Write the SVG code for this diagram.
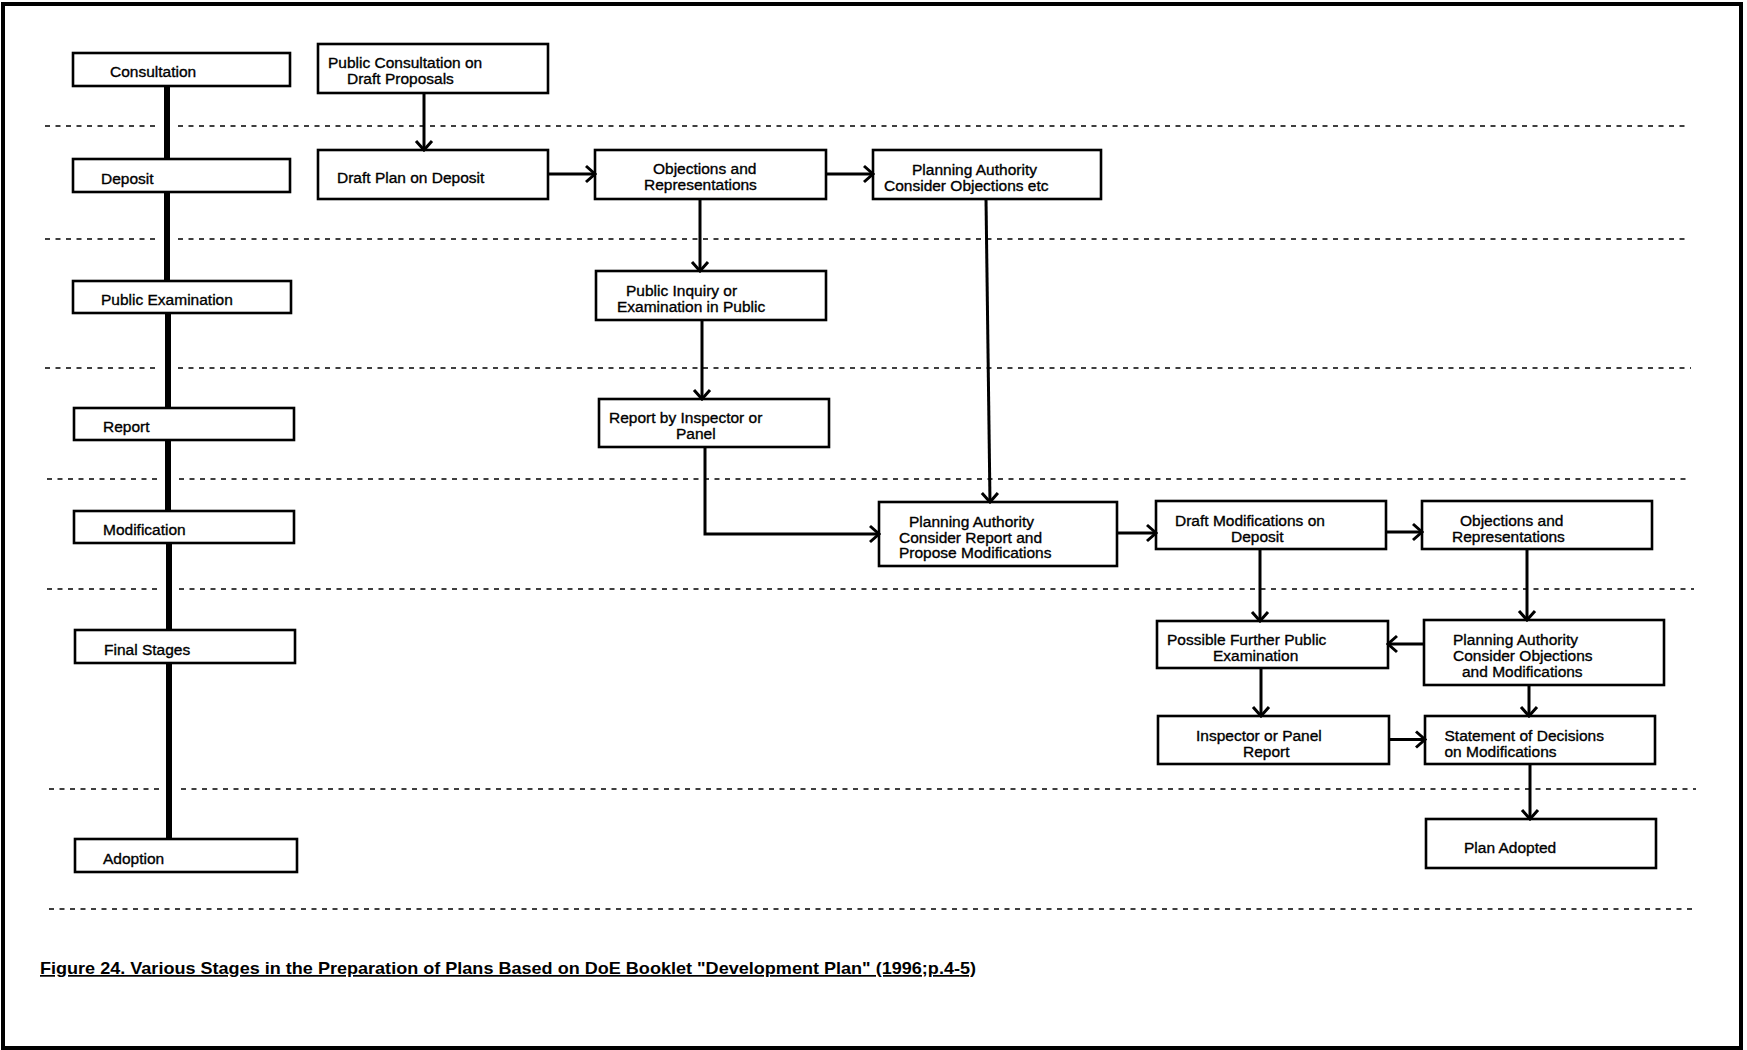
<svg xmlns="http://www.w3.org/2000/svg" width="1747" height="1050" viewBox="0 0 1747 1050">
  <style>
    .frame { fill: none; stroke: #000; stroke-width: 4; }
    .box { fill: #fff; stroke: #000; stroke-width: 2.6; }
    .lbl { font-family: "Liberation Sans", Arial, sans-serif; font-size: 15.5px; fill: #000; stroke: #000; stroke-width: 0.35; }
    .sep { fill: none; stroke: #000; stroke-width: 1.5; stroke-dasharray: 5 5.5; }
    .spine { fill: none; stroke: #000; stroke-width: 6; }
    .link { fill: none; stroke: #000; stroke-width: 3; marker-end: url(#arr); }
    .cap { font-family: "Liberation Sans", Arial, sans-serif; font-size: 17px; font-weight: bold; fill: #000; text-decoration: underline; }
  </style>
  <defs>
    <marker id="arr" viewBox="-12 -11 14 22" refX="0" refY="0" markerWidth="14" markerHeight="22" markerUnits="userSpaceOnUse" orient="auto">
      <path d="M-9,-8 L0,0 L-9,8" fill="none" stroke="#000" stroke-width="3"/>
    </marker>
  </defs>

  <rect width="1747" height="1050" fill="#fff"/>
  <rect class="frame" x="3" y="4" width="1738" height="1044"/>

  <!-- stage separators -->
  <g id="separators">
    <path class="sep" d="M45,126H157M178,126H1688"/>
    <path class="sep" d="M45,239H157M178,239H1690"/>
    <path class="sep" d="M45,368H157M178,368H1691"/>
    <path class="sep" d="M47,479H158M179,479H1691"/>
    <path class="sep" d="M47,589H158M179,589H1694"/>
    <path class="sep" d="M49,789H160M181,789H1696"/>
    <path class="sep" d="M49,909H1696"/>
  </g>

  <!-- stage column -->
  <g id="stage-consultation"><rect class="box" x="73" y="53" width="217" height="33"/><text class="lbl" x="110" y="77">Consultation</text></g>
  <g id="stage-deposit"><rect class="box" x="73" y="159" width="217" height="33"/><text class="lbl" x="101" y="184">Deposit</text></g>
  <g id="stage-public-examination"><rect class="box" x="73" y="281" width="218" height="32"/><text class="lbl" x="101" y="305">Public Examination</text></g>
  <g id="stage-report"><rect class="box" x="74" y="408" width="220" height="32"/><text class="lbl" x="103" y="432">Report</text></g>
  <g id="stage-modification"><rect class="box" x="74" y="511" width="220" height="32"/><text class="lbl" x="103" y="535">Modification</text></g>
  <g id="stage-final"><rect class="box" x="75" y="630" width="220" height="33"/><text class="lbl" x="104" y="655">Final Stages</text></g>
  <g id="stage-adoption"><rect class="box" x="75" y="839" width="222" height="33"/><text class="lbl" x="103" y="864">Adoption</text></g>

  <!-- process boxes -->
  <g id="public-consultation"><rect class="box" x="318" y="44" width="230" height="49"/>
    <text class="lbl" x="328" y="68">Public Consultation on</text><text class="lbl" x="347" y="84">Draft Proposals</text></g>
  <g id="draft-plan"><rect class="box" x="318" y="150" width="230" height="49"/>
    <text class="lbl" x="337" y="183">Draft Plan on Deposit</text></g>
  <g id="objections-1"><rect class="box" x="595" y="150" width="231" height="49"/>
    <text class="lbl" x="653" y="174">Objections and</text><text class="lbl" x="644" y="190">Representations</text></g>
  <g id="pa-objections"><rect class="box" x="873" y="150" width="228" height="49"/>
    <text class="lbl" x="912" y="175">Planning Authority</text><text class="lbl" x="884" y="190.5">Consider Objections etc</text></g>
  <g id="public-inquiry"><rect class="box" x="596" y="271" width="230" height="49"/>
    <text class="lbl" x="626" y="296">Public Inquiry or</text><text class="lbl" x="617" y="311.5">Examination in Public</text></g>
  <g id="inspector-report"><rect class="box" x="599" y="399" width="230" height="48"/>
    <text class="lbl" x="609" y="423">Report by Inspector or</text><text class="lbl" x="676" y="439">Panel</text></g>
  <g id="pa-report"><rect class="box" x="879" y="502" width="238" height="64"/>
    <text class="lbl" x="909" y="527">Planning Authority</text><text class="lbl" x="899" y="542.5">Consider Report and</text><text class="lbl" x="899" y="558">Propose Modifications</text></g>
  <g id="draft-modifications"><rect class="box" x="1156" y="501" width="230" height="48"/>
    <text class="lbl" x="1175" y="526">Draft Modifications on</text><text class="lbl" x="1231" y="541.5">Deposit</text></g>
  <g id="objections-2"><rect class="box" x="1422" y="501" width="230" height="48"/>
    <text class="lbl" x="1460" y="526">Objections and</text><text class="lbl" x="1452" y="541.5">Representations</text></g>
  <g id="further-examination"><rect class="box" x="1157" y="621" width="231" height="47"/>
    <text class="lbl" x="1167" y="645">Possible Further Public</text><text class="lbl" x="1213" y="660.5">Examination</text></g>
  <g id="pa-modifications"><rect class="box" x="1424" y="620" width="240" height="65"/>
    <text class="lbl" x="1453" y="645">Planning Authority</text><text class="lbl" x="1453" y="660.5">Consider Objections</text><text class="lbl" x="1462" y="676.5">and Modifications</text></g>
  <g id="panel-report"><rect class="box" x="1158" y="716" width="231" height="48"/>
    <text class="lbl" x="1196" y="740.5">Inspector or Panel</text><text class="lbl" x="1243" y="756.5">Report</text></g>
  <g id="statement"><rect class="box" x="1425" y="716" width="230" height="48"/>
    <text class="lbl" x="1444.5" y="740.5">Statement of Decisions</text><text class="lbl" x="1444.5" y="756.5">on Modifications</text></g>
  <g id="plan-adopted"><rect class="box" x="1426" y="819" width="230" height="49"/>
    <text class="lbl" x="1464" y="852.5">Plan Adopted</text></g>

  <!-- connectors -->
  <g id="connectors">
    <path class="spine" d="M167,86V159M167,192V281M168,313V408M168,440V511M169,543V630M169,663V839"/>
    <path class="link" d="M424,93V150"/>
    <path class="link" d="M548,174H595"/>
    <path class="link" d="M826,174H873"/>
    <path class="link" d="M700,199V271"/>
    <path class="link" d="M702,320V399"/>
    <path class="link" d="M986,199L990,502"/>
    <path class="link" d="M705,447V534H879"/>
    <path class="link" d="M1117,533H1156"/>
    <path class="link" d="M1386,532H1422"/>
    <path class="link" d="M1260,549V621"/>
    <path class="link" d="M1527,549V620"/>
    <path class="link" d="M1424,644H1388"/>
    <path class="link" d="M1261,668V716"/>
    <path class="link" d="M1529,685V716"/>
    <path class="link" d="M1389,739.5H1425"/>
    <path class="link" d="M1530,764V819"/>
  </g>

  <text class="cap" x="40" y="974" textLength="936" lengthAdjust="spacingAndGlyphs">Figure 24. Various Stages in the Preparation of Plans Based on DoE Booklet "Development Plan" (1996;p.4-5)</text>
</svg>
